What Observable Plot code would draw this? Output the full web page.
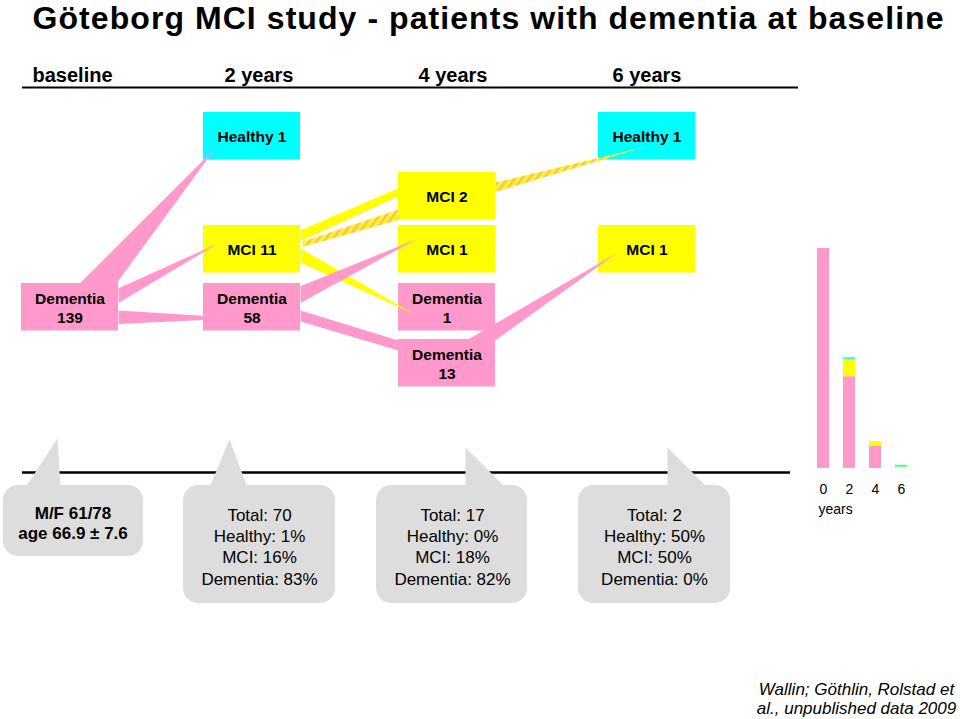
<!DOCTYPE html>
<html><head><meta charset="utf-8">
<script src="https://cdn.jsdelivr.net/npm/d3@7"></script>
<script src="https://cdn.jsdelivr.net/npm/@observablehq/plot@0.6"></script>
<style>
body{margin:0;background:#fff;}
#wrap{position:relative;width:960px;height:719px;overflow:hidden;font-family:"Liberation Sans",Arial,sans-serif;}
#wrap svg{position:absolute;}
</style></head><body><div id="wrap"></div>
<script>
// ---------------- data ----------------
const title = "Göteborg MCI study - patients with dementia at baseline";
const timeLabels = ["baseline", "2 years", "4 years", "6 years"];
const nodeTime = [0, 1, 1, 1, 2, 2, 2, 2, 3, 3];
const nodeState = ["Dementia", "Healthy", "MCI", "Dementia", "MCI", "MCI", "Dementia", "Dementia", "Healthy", "MCI"];
const nodeCount = [139, 1, 11, 58, 2, 1, 1, 13, 1, 1];
const linkSource = [0, 0, 0, 2, 2, 2, 3, 3, 4, 7];
const linkTarget = [1, 2, 3, 4, 4, 6, 5, 7, 8, 9];
const linkKind = ["Dementia", "Dementia", "Dementia", "MCI", "mixed", "MCI", "Dementia", "Dementia", "mixed", "Dementia"];
const baselineNotes = ["M/F 61/78", "age 66.9 ± 7.6"];
const followTotals = [70, 17, 2];
const followHealthy = [1, 0, 50];
const followMCI = [16, 18, 50];
const followDementia = [83, 82, 0];
const barYears = [0, 2, 4, 6];
const barDementia = [139, 58, 14, 0];
const barMCI = [0, 11, 3, 1];
const barHealthy = [0, 1, 0, 1];
const sourceNote = ["Wallin; Göthlin, Rolstad et", "al., unpublished data 2009"];

// ---------------- layout & style ----------------
const FONT = '"Liberation Sans", Arial, sans-serif';
const colors = {Healthy: "#00ffff", MCI: "#ffff00", Dementia: "#ff99cc", mixed: "url(#hatch)"};
const colLeft = [21, 203, 398, 598];
const rowTop = [112, 172, 225, 283, 339];
const nodeRow = [3, 0, 2, 3, 1, 2, 3, 4, 0, 2];
const boxW = 97, boxH = 47.5;
const headerX = [32, 224, 418, 612];
// anchor points of each flow: [end, fraction of box width, fraction of box height]
const linkShape = [
  [["s", 0.6, 0], ["t", 0.124, 0.745], ["s", 0.98, 0]],
  [["s", 1, 0.1], ["t", 0.144, 0.383], ["s", 1, 0.41]],
  [["s", 1, 0.57], ["t", 0, 0.68], ["t", 0, 0.77], ["s", 1, 0.85]],
  [["s", 1, 0.1], ["t", 0, 0.33], ["t", 0, 0.5], ["s", 1, 0.33]],
  [["s", 1.02, 0.34], ["t", 0, 0.78], ["t", 0, 1], ["s", 1.02, 0.45]],
  [["s", 1, 0.48], ["t", 0.175, 0.66], ["s", 1, 0.78]],
  [["s", 1, 0.06], ["t", 0.196, 0.277], ["s", 1, 0.41]],
  [["s", 1, 0.57], ["t", 0, 0.02], ["t", 0, 0.23], ["s", 1, 0.8]],
  [["s", 1, 0.21], ["t", 0.485, 0.72], ["s", 1, 0.41]],
  [["s", 0.65, 0.08], ["t", 0.196, 0.574], ["s", 0.86, 0.22]]
];
const calloutBox = [[3, 143, 485, 556], [183, 335, 485, 603], [376, 527, 485, 603], [578, 730, 485, 603]];
const calloutTail = [
  [[25, 487], [57, 438], [60, 487]],
  [[209, 487], [229, 439], [247, 487]],
  [[465, 447], [505, 487], [465, 487]],
  [[667, 447], [707, 487], [667, 487]]
];
const calloutCx = [72.5, 259, 452, 654];

// ---------------- build tables ----------------
const nodes = nodeTime.map((t, i) => {
  const x1 = colLeft[t], y1 = rowTop[nodeRow[i]];
  return {
    state: nodeState[i], count: nodeCount[i],
    label: nodeState[i] === "Dementia" ? `Dementia\n${nodeCount[i]}` : `${nodeState[i]} ${nodeCount[i]}`,
    x1, y1, x2: x1 + boxW, y2: y1 + boxH
  };
});
const flowPts = [];
linkSource.forEach((s, k) => {
  const S = nodes[s], T = nodes[linkTarget[k]];
  linkShape[k].forEach(([e, fx, fy]) => {
    const n = e === "s" ? S : T;
    flowPts.push({id: k, kind: linkKind[k], x: n.x1 + fx * boxW, y: n.y1 + fy * boxH});
  });
});
const flowMark = kind => Plot.line(flowPts.filter(d => d.kind === kind),
  {x: "x", y: "y", z: "id", fill: colors[kind], stroke: "none", curve: "linear-closed"});

const calloutTexts = [baselineNotes.join("\n")].concat(followTotals.map((t, i) =>
  `Total: ${t}\nHealthy: ${followHealthy[i]}%\nMCI: ${followMCI[i]}%\nDementia: ${followDementia[i]}%`));
const callouts = calloutBox.map(([x1, x2, y1, y2], i) => ({x1, x2, y1, y2, text: calloutTexts[i], cx: calloutCx[i], cy: (y1 + y2) / 2 + 1.5, bold: i === 0}));
const tailPts = calloutTail.flatMap((pts, id) => pts.map(([x, y]) => ({id, x, y})));

const headers = timeLabels.map((t, i) => ({t, x: headerX[i]}));

// ---------------- main diagram ----------------
const main = Plot.plot({
  width: 960, height: 719, margin: 0,
  x: {domain: [0, 960], range: [0, 960], axis: null},
  y: {domain: [0, 719], range: [0, 719], axis: null},
  color: {type: "identity"},
  style: {fontFamily: FONT, background: "transparent", overflow: "visible"},
  marks: [
    Plot.text([title], {x: 32, y: 18, text: d => d, textAnchor: "start", fontSize: 32, fontWeight: "bold", fontFamily: FONT, fill: "#000"}),
    Plot.text(headers, {x: "x", y: 75, text: "t", textAnchor: "start", fontSize: 20, fontWeight: "bold", fontFamily: FONT, fill: "#000"}),
    Plot.ruleY([87], {x1: 22, x2: 798, stroke: "#000", strokeWidth: 2}),
    Plot.rect(nodes, {x1: "x1", x2: "x2", y1: "y1", y2: "y2", fill: d => colors[d.state]}),
    flowMark("mixed"),
    flowMark("MCI"),
    flowMark("Dementia"),
    Plot.text(nodes, {x: d => (d.x1 + d.x2) / 2, y: d => (d.y1 + d.y2) / 2, text: "label", fontSize: 15.5, fontWeight: "bold", lineHeight: 19 / 15.5, fontFamily: FONT, fill: "#000"}),
    Plot.ruleY([472], {x1: 22, x2: 790, stroke: "#000", strokeWidth: 2.5}),
    Plot.line(tailPts, {x: "x", y: "y", z: "id", fill: "#dddddd", stroke: "none", curve: "linear-closed"}),
    Plot.rect(callouts, {x1: "x1", x2: "x2", y1: "y1", y2: "y2", fill: "#dddddd", rx: 15}),
    Plot.text(callouts.filter(d => d.bold), {x: "cx", y: "cy", text: "text", fontSize: 17, fontWeight: "bold", lineHeight: 20 / 17, fontFamily: FONT, fill: "#000"}),
    Plot.text(callouts.filter(d => !d.bold), {x: "cx", y: "cy", text: "text", fontSize: 17, lineHeight: 21.2 / 17, fontFamily: FONT, fill: "#000"}),
    Plot.text([sourceNote.join("\n")], {x: 856, y: 697.5, text: d => d, fontSize: 17, fontStyle: "italic", lineHeight: 19 / 17, fontFamily: FONT, fill: "#000"})
  ]
});
// hatch pattern for mixed flows
const defs = document.createElementNS("http://www.w3.org/2000/svg", "defs");
defs.innerHTML = '<pattern id="hatch" patternUnits="userSpaceOnUse" width="6" height="6" patternTransform="rotate(35)"><rect width="6" height="6" fill="#ffff00"/><rect width="2.6" height="6" fill="#f7b88c"/></pattern>';
main.insertBefore(defs, main.firstChild);
main.style.left = "0px"; main.style.top = "0px";
document.getElementById("wrap").appendChild(main);
for (const t of main.querySelectorAll("text")) {
  if (t.textContent === title) { t.setAttribute("textLength", 911); t.setAttribute("lengthAdjust", "spacing"); }
}

// ---------------- stacked bar chart ----------------
const barData = [];
barYears.forEach((yr, i) => {
  barData.push({year: yr, state: "Dementia", n: barDementia[i]});
  barData.push({year: yr, state: "MCI", n: barMCI[i]});
  barData.push({year: yr, state: "Healthy", n: barHealthy[i]});
});
const bars = Plot.plot({
  width: 130, height: 290, marginLeft: 10, marginRight: 16, marginTop: 18, marginBottom: 52,
  x: {type: "band", domain: barYears, paddingInner: 0.55, paddingOuter: 0.275, tickSize: 0, tickPadding: 16, label: null},
  y: {domain: [0, 139], axis: null},
  color: {domain: ["Dementia", "MCI", "Healthy"], range: [colors.Dementia, colors.MCI, colors.Healthy]},
  style: {fontFamily: FONT, fontSize: "14px", background: "transparent", color: "#000", overflow: "visible"},
  marks: [
    Plot.barY(barData, {x: "year", y: "n", fill: "state"}),
    Plot.text(["years"], {frameAnchor: "bottom-left", dx: 8, dy: 45, textAnchor: "start", text: d => d, fontSize: 14, fontFamily: FONT, fill: "#000"})
  ]
});
bars.style.left = "800px"; bars.style.top = "230px";
document.getElementById("wrap").appendChild(bars);
</script></body></html>
